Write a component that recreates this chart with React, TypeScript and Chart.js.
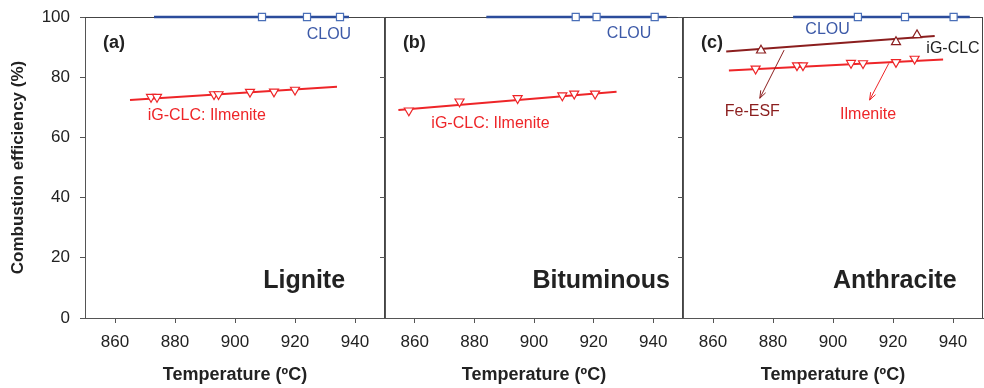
import React, { useEffect, useRef } from "react";
import { Chart, registerables } from "chart.js";
Chart.register(...registerables);

const FONT = '"Liberation Sans", Arial, Helvetica, sans-serif';
const BLUE_LINE = "#2B4C9B";
const BLUE_MARK = "#4A6FB8";
const BLUE_TEXT = "#3D5AA8";
const RED = "#EE2528";
const DARK_RED = "#8B1E1E";
const AXIS = "#555";
const TEXT = "#222";

const xTicks = [860, 880, 900, 920, 940];
const yTicks = [0, 20, 40, 60, 80, 100];

// Panel (a) Lignite
const aClouT = [909, 924, 935];
const aClouV = [100, 100, 100];
const aClouFitT = [873, 938];
const aClouFitV = [100, 100];
const aIlmT = [872, 874, 893, 894.5, 905, 913, 920];
const aIlmV = [73.4, 73.4, 74.3, 74.3, 75.1, 75.2, 75.8];
const aIlmFitT = [865, 934];
const aIlmFitV = [72.4, 76.8];

// Panel (b) Bituminous
const bClouT = [914, 921, 940.5];
const bClouV = [100, 100, 100];
const bClouFitT = [884, 944.5];
const bClouFitV = [100, 100];
const bIlmT = [858, 875, 894.5, 909.5, 913.5, 920.5];
const bIlmV = [68.9, 71.9, 73.0, 73.9, 74.5, 74.5];
const bIlmFitT = [854.5, 927.7];
const bIlmFitV = [69.1, 75.2];

// Panel (c) Anthracite
const cClouT = [908.3, 924, 940.2];
const cClouV = [100, 100, 100];
const cClouFitT = [886.7, 945.6];
const cClouFitV = [100, 100];
const cFeT = [876, 921, 928];
const cFeV = [88.9, 91.7, 94.0];
const cFeFitT = [864.4, 933.9];
const cFeFitV = [88.5, 93.7];
const cIlmT = [874.2, 888, 890, 906, 910, 921, 927.2];
const cIlmV = [82.8, 83.9, 83.9, 84.7, 84.6, 85.0, 86.1];
const cIlmFitT = [865.3, 936.7];
const cIlmFitV = [82.2, 85.9];

type Txt = { text: string; t: number; v: number; color: string; size: number; bold?: boolean; align: CanvasTextAlign };
type Arrow = { t1: number; v1: number; t2: number; v2: number; color: string };

const pts = (T: number[], V: number[]) => T.map((t, i) => ({ x: t, y: V[i] }));

const markerSet = (T: number[], V: number[], color: string, style: string, rotation: number) => ({
  data: pts(T, V),
  showLine: false,
  pointStyle: style,
  pointRotation: rotation,
  pointRadius: style === "rect" ? 5 : 5.2,
  pointBorderWidth: 1.2,
  pointBorderColor: color,
  pointBackgroundColor: "#fff",
  clip: false,
  order: 0,
});

const lineSet = (T: number[], V: number[], color: string, width: number) => ({
  data: pts(T, V),
  showLine: true,
  borderColor: color,
  borderWidth: width,
  pointRadius: 0,
  clip: false,
  order: 1,
});

function makeOverlay(texts: Txt[], arrows: Arrow[]) {
  return {
    id: "overlay",
    beforeDatasetsDraw(chart: any) {
      const { ctx, chartArea: a } = chart;
      ctx.save();
      ctx.strokeStyle = "#444";
      ctx.lineWidth = 1;
      ctx.beginPath();
      ctx.moveTo(a.left, Math.round(a.top) + 0.5);
      ctx.lineTo(a.right, Math.round(a.top) + 0.5);
      ctx.moveTo(Math.round(a.right) - 0.5, a.top);
      ctx.lineTo(Math.round(a.right) - 0.5, a.bottom);
      ctx.stroke();
      ctx.restore();
    },
    afterDatasetsDraw(chart: any) {
      const { ctx, scales } = chart;
      const x = scales.x;
      const y = scales.y;
      ctx.save();
      for (const ar of arrows) {
        const x1 = x.getPixelForValue(ar.t1);
        const y1 = y.getPixelForValue(ar.v1);
        const x2 = x.getPixelForValue(ar.t2);
        const y2 = y.getPixelForValue(ar.v2);
        ctx.strokeStyle = ar.color;
        ctx.lineWidth = 1;
        ctx.beginPath();
        ctx.moveTo(x1, y1);
        ctx.lineTo(x2, y2);
        const ang = Math.atan2(y2 - y1, x2 - x1);
        const h = 8;
        ctx.moveTo(x2 - h * Math.cos(ang - 0.35), y2 - h * Math.sin(ang - 0.35));
        ctx.lineTo(x2, y2);
        ctx.lineTo(x2 - h * Math.cos(ang + 0.35), y2 - h * Math.sin(ang + 0.35));
        ctx.stroke();
      }
      ctx.textBaseline = "middle";
      for (const t of texts) {
        ctx.font = `${t.bold ? "bold " : ""}${t.size}px ${FONT}`;
        ctx.fillStyle = t.color;
        ctx.textAlign = t.align;
        ctx.fillText(t.text, x.getPixelForValue(t.t), y.getPixelForValue(t.v));
      }
      ctx.restore();
    },
  };
}

type PanelProps = {
  left: number;
  width: number;
  yWidth: number;
  padRight: number;
  showY: boolean;
  datasets: any[];
  texts: Txt[];
  arrows: Arrow[];
};

function Panel(p: PanelProps) {
  const ref = useRef<HTMLCanvasElement | null>(null);
  useEffect(() => {
    if (!ref.current) return;
    const chart = new Chart(ref.current, {
      type: "scatter",
      data: { datasets: p.datasets },
      options: {
        responsive: false,
        animation: false,
        devicePixelRatio: 1,
        layout: { autoPadding: false, padding: { top: 17, right: p.padRight, bottom: 0, left: 0 } },
        plugins: { legend: { display: false }, tooltip: { enabled: false } },
        scales: {
          x: {
            type: "linear",
            min: 850,
            max: 950,
            afterBuildTicks: (s: any) => {
              s.ticks = xTicks.map((v) => ({ value: v }));
            },
            afterFit: (s: any) => {
              s.height = 70;
              s.paddingLeft = 0;
              s.paddingRight = 0;
            },
            grid: { drawOnChartArea: false, drawTicks: true, tickLength: 5, color: AXIS },
            border: { display: true, color: AXIS, width: 1 },
            ticks: { font: { family: FONT, size: 17 }, color: TEXT, padding: 9, maxRotation: 0 },
            title: {
              display: true,
              text: "Temperature (ºC)",
              font: { family: FONT, size: 18, weight: "bold" },
              color: TEXT,
              padding: { top: 0, bottom: 2 },
            },
          },
          y: {
            type: "linear",
            min: 0,
            max: 100,
            afterBuildTicks: (s: any) => {
              s.ticks = yTicks.map((v) => ({ value: v }));
            },
            afterFit: (s: any) => {
              s.width = p.yWidth;
              s.paddingTop = 0;
              s.paddingBottom = 0;
            },
            grid: { drawOnChartArea: false, drawTicks: true, tickLength: 5, color: AXIS },
            border: { display: true, color: AXIS, width: 1 },
            ticks: {
              font: { family: FONT, size: 17 },
              color: p.showY ? TEXT : "rgba(0,0,0,0)",
              padding: 10,
            },
            title: {
              display: p.showY,
              text: "Combustion efficiency (%)",
              font: { family: FONT, size: 17, weight: "bold" },
              color: TEXT,
              padding: { top: 8, bottom: 0 },
            },
          },
        },
      } as any,
      plugins: [makeOverlay(p.texts, p.arrows)],
    });
    return () => chart.destroy();
  }, []);
  return (
    <canvas
      ref={ref}
      width={p.width}
      height={388}
      style={{ position: "absolute", left: p.left, top: 0, width: p.width, height: 388 }}
    />
  );
}

export default function App() {
  const aSets = [
    markerSet(aClouT, aClouV, BLUE_MARK, "rect", 0),
    markerSet(aIlmT, aIlmV, RED, "triangle", 180),
    lineSet(aClouFitT, aClouFitV, BLUE_LINE, 2.5),
    lineSet(aIlmFitT, aIlmFitV, RED, 2),
  ];
  const bSets = [
    markerSet(bClouT, bClouV, BLUE_MARK, "rect", 0),
    markerSet(bIlmT, bIlmV, RED, "triangle", 180),
    lineSet(bClouFitT, bClouFitV, BLUE_LINE, 2.5),
    lineSet(bIlmFitT, bIlmFitV, RED, 2),
  ];
  const cSets = [
    markerSet(cClouT, cClouV, BLUE_MARK, "rect", 0),
    markerSet(cFeT, cFeV, DARK_RED, "triangle", 0),
    markerSet(cIlmT, cIlmV, RED, "triangle", 180),
    lineSet(cClouFitT, cClouFitV, BLUE_LINE, 2.5),
    lineSet(cFeFitT, cFeFitV, DARK_RED, 2),
    lineSet(cIlmFitT, cIlmFitV, RED, 2),
  ];
  const aTexts: Txt[] = [
    { text: "(a)", t: 856, v: 91.3, color: TEXT, size: 18, bold: true, align: "left" },
    { text: "CLOU", t: 931.3, v: 94.0, color: BLUE_TEXT, size: 16, align: "center" },
    { text: "iG-CLC: Ilmenite", t: 890.6, v: 67.4, color: RED, size: 16, align: "center" },
    { text: "Lignite", t: 936.7, v: 12.2, color: TEXT, size: 25, bold: true, align: "right" },
  ];
  const bTexts: Txt[] = [
    { text: "(b)", t: 856, v: 91.3, color: TEXT, size: 18, bold: true, align: "left" },
    { text: "CLOU", t: 931.9, v: 94.6, color: BLUE_TEXT, size: 16, align: "center" },
    { text: "iG-CLC: Ilmenite", t: 885.4, v: 64.7, color: RED, size: 16, align: "center" },
    { text: "Bituminous", t: 945.6, v: 12.2, color: TEXT, size: 25, bold: true, align: "right" },
  ];
  const cTexts: Txt[] = [
    { text: "(c)", t: 856, v: 91.3, color: TEXT, size: 18, bold: true, align: "left" },
    { text: "CLOU", t: 898.2, v: 95.9, color: BLUE_TEXT, size: 16, align: "center" },
    { text: "iG-CLC", t: 940, v: 89.6, color: TEXT, size: 16, align: "center" },
    { text: "Fe-ESF", t: 873.1, v: 68.5, color: DARK_RED, size: 16, align: "center" },
    { text: "Ilmenite", t: 911.7, v: 67.7, color: RED, size: 16, align: "center" },
    { text: "Anthracite", t: 941.2, v: 12.2, color: TEXT, size: 25, bold: true, align: "right" },
  ];
  const cArrows: Arrow[] = [
    { t1: 883.7, v1: 89.0, t2: 875.6, v2: 73.0, color: DARK_RED },
    { t1: 918.6, v1: 84.6, t2: 912.2, v2: 72.4, color: RED },
  ];
  return (
    <div style={{ position: "absolute", left: 0, top: 0, width: 984, height: 388, background: "#fff", overflow: "hidden" }}>
      <Panel left={0} width={390} yWidth={85} padRight={5} showY={true} datasets={aSets} texts={aTexts} arrows={[]} />
      <Panel left={375} width={315} yWidth={10} padRight={7} showY={false} datasets={bSets} texts={bTexts} arrows={[]} />
      <Panel left={673} width={311} yWidth={10} padRight={1} showY={false} datasets={cSets} texts={cTexts} arrows={cArrows} />
    </div>
  );
}
